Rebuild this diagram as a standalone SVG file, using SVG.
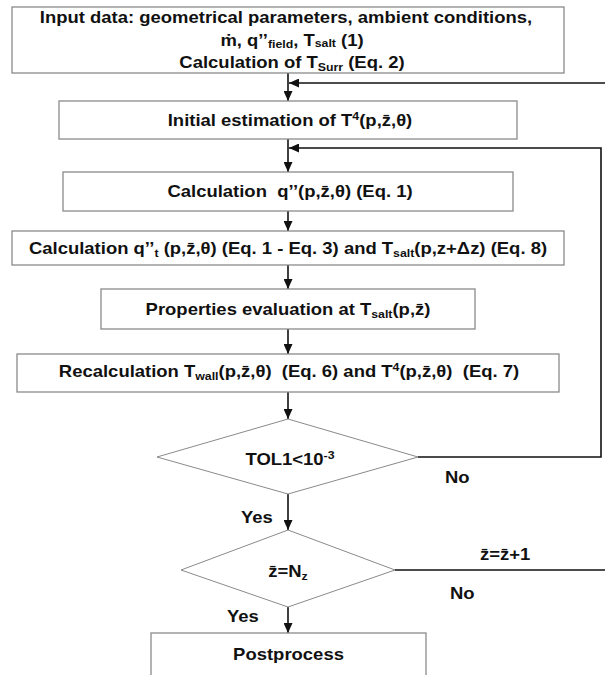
<svg xmlns="http://www.w3.org/2000/svg" width="605" height="675" viewBox="0 0 605 675">
<style>
.box{fill:#fff;stroke:#8a8a8a;stroke-width:1.3}
.dia{fill:#fff;stroke:#8a8a8a;stroke-width:1}
.ln{fill:none;stroke:#111;stroke-width:1.6}
.t{font-family:"Liberation Sans","DejaVu Sans",Arial,sans-serif;font-weight:bold;font-size:16.5px;fill:#111;white-space:pre}
.m{text-anchor:middle}
.sb{font-size:11px}
.sp{font-size:11px}
</style>
<defs>
<marker id="ah" markerUnits="userSpaceOnUse" markerWidth="10" markerHeight="9" refX="10" refY="4.5" orient="auto">
<path d="M0,0 L10,4.5 L0,9 Z" fill="#111"/>
</marker>
</defs>
<g id="connectors">
<line class="ln" x1="288" y1="73" x2="288" y2="101" marker-end="url(#ah)"/>
<line class="ln" x1="288" y1="139" x2="288" y2="172" marker-end="url(#ah)"/>
<line class="ln" x1="288" y1="211" x2="288" y2="231" marker-end="url(#ah)"/>
<line class="ln" x1="288" y1="265" x2="288" y2="289" marker-end="url(#ah)"/>
<line class="ln" x1="288" y1="329" x2="288" y2="354" marker-end="url(#ah)"/>
<line class="ln" x1="288" y1="392" x2="288" y2="419" marker-end="url(#ah)"/>
<line class="ln" x1="288" y1="494" x2="288" y2="530" marker-end="url(#ah)"/>
<line class="ln" x1="288" y1="607" x2="288" y2="633" marker-end="url(#ah)"/>
<polyline class="ln" points="418,457 601,457 601,148 289,148" marker-end="url(#ah)"/>
<line class="ln" x1="395" y1="570" x2="605" y2="570"/>
<line class="ln" x1="605" y1="83" x2="289" y2="83" marker-end="url(#ah)"/>
</g>
<g id="n-input">
<rect class="box" x="12" y="7" width="552" height="66"/>
<text class="t m" transform="matrix(1.12 0 0 1 286 23)">Input data: geometrical parameters, ambient conditions,</text>
<text class="t m" transform="matrix(1.12 0 0 1 292 45.5)">ṁ, q’’<tspan class="sb" baseline-shift="-3">field</tspan>, T<tspan class="sb" baseline-shift="-2">salt</tspan> (1)</text>
<text class="t m" transform="matrix(1.12 0 0 1 292 68)">Calculation of T<tspan class="sb" baseline-shift="-3">Surr</tspan> (Eq. 2)</text>
</g>
<g id="n-initial">
<rect class="box" x="59" y="101" width="458" height="38"/>
<text class="t m" transform="matrix(1.12 0 0 1 290 126)">Initial estimation of T<tspan class="sp" baseline-shift="6">4</tspan>(p,z̄,θ)</text>
</g>
<g id="n-calcq">
<rect class="box" x="63" y="172" width="450" height="39"/>
<text class="t m" transform="matrix(1.12 0 0 1 290 197)">Calculation  q’’(p,z̄,θ) (Eq. 1)</text>
</g>
<g id="n-calcqt">
<rect class="box" x="12" y="231" width="552" height="34"/>
<text class="t m" transform="matrix(1.12 0 0 1 288 254)">Calculation q’’<tspan class="sb" baseline-shift="-3">t</tspan> (p,z̄,θ) (Eq. 1 - Eq. 3) and T<tspan class="sb" baseline-shift="-3">salt</tspan>(p,z+Δz) (Eq. 8)</text>
</g>
<g id="n-props">
<rect class="box" x="101" y="289" width="374" height="40"/>
<text class="t m" transform="matrix(1.12 0 0 1 288 315)">Properties evaluation at T<tspan class="sb" baseline-shift="-3">salt</tspan>(p,z̄)</text>
</g>
<g id="n-recalc">
<rect class="box" x="17" y="354" width="542" height="38"/>
<text class="t m" transform="matrix(1.12 0 0 1 289 377)">Recalculation T<tspan class="sb" baseline-shift="-3">wall</tspan>(p,z̄,θ)  (Eq. 6) and T<tspan class="sp" baseline-shift="6">4</tspan>(p,z̄,θ)  (Eq. 7)</text>
</g>
<g id="n-tol">
<polygon class="dia" points="288,419 418,457 288,494 157,457"/>
<text class="t m" transform="matrix(1.12 0 0 1 290 465)">TOL1&lt;10<tspan class="sp" baseline-shift="6">-3</tspan></text>
</g>
<g id="n-zn">
<polygon class="dia" points="288,530 395,570 288,607 181,570"/>
<text class="t m" transform="matrix(1.12 0 0 1 288 577)">z̄=N<tspan class="sb" baseline-shift="-3">z</tspan></text>
</g>
<g id="n-post">
<rect class="box" x="151" y="633" width="275" height="50"/>
<text class="t m" transform="matrix(1.12 0 0 1 288.5 660)">Postprocess</text>
</g>
<g id="labels">
<text class="t" transform="matrix(1.12 0 0 1 445 483)">No</text>
<text class="t" transform="matrix(1.12 0 0 1 241 523)">Yes</text>
<text class="t" transform="matrix(1.12 0 0 1 480 560)">z̄=z̄+1</text>
<text class="t" transform="matrix(1.12 0 0 1 450 599)">No</text>
<text class="t" transform="matrix(1.12 0 0 1 227 622)">Yes</text>
</g>
</svg>
